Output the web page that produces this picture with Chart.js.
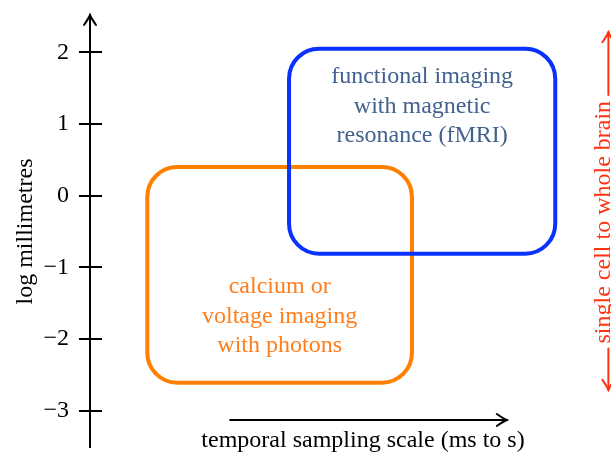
<!DOCTYPE html>
<html><head><meta charset="utf-8">
<script src="https://cdn.jsdelivr.net/npm/chart.js@4/dist/chart.umd.min.js"></script>
<style>html,body{margin:0;padding:0;background:#fff;overflow:hidden}#wrap{width:611px;height:453px;position:relative}</style>
</head><body><div id="wrap"><canvas id="c" width="611" height="453"></canvas></div>
<script>
// ---- data ----
const yTicks = [-3, -2, -1, 0, 1, 2];
const yRange = [-3.5, 2.5];
const xRange = [0, 10];
const yTitle = 'log millimetres';

const boxLabels = [
  ['calcium or', 'voltage imaging', 'with photons'],
  ['functional imaging', 'with magnetic', 'resonance (fMRI)']
];
const boxXStart = [1.10, 3.82];
const boxXEnd   = [6.18, 8.93];
const boxYLow   = [-2.61, -0.81];
const boxYHigh  = [0.40, 2.05];
const boxLabelY = [-1.77, 1.16];   // baseline of the middle text line
const boxStroke = ['#ff8000', '#0a32ff'];
const boxTextColor = ['#ff7d1a', '#41628f'];

const timeArrowX = [2.69, 8.0];
const timeArrowY = -3.13;
const timeLabel = 'temporal sampling scale (ms to s)';
const timeLabelX = 5.24;
const timeLabelY = -3.50;

const scaleArrowX = 9.95;
const scaleArrowY = [-2.71, 2.28];
const scaleLabel = 'single cell to whole brain';
const scaleLabelX = 9.98;
const scaleLabelY = -0.37;
const scaleColor = '#ff3311';

const FONT = '"Liberation Serif", "Times New Roman", serif';
const FS = 24;

function arrowHead(ctx, tx, ty, dx, dy, len, half) {
  const px = -dy, py = dx;
  ctx.beginPath();
  ctx.moveTo(tx - dx * len + px * half, ty - dy * len + py * half);
  ctx.quadraticCurveTo(tx - dx * len * 0.35 + px * half * 0.25, ty - dy * len * 0.35 + py * half * 0.25, tx, ty);
  ctx.quadraticCurveTo(tx - dx * len * 0.35 - px * half * 0.25, ty - dy * len * 0.35 - py * half * 0.25,
                       tx - dx * len - px * half, ty - dy * len - py * half);
  ctx.stroke();
}

function roundRect(ctx, x0, y0, x1, y1, r) {
  ctx.beginPath();
  ctx.moveTo(x0 + r, y0);
  ctx.lineTo(x1 - r, y0);
  ctx.arcTo(x1, y0, x1, y0 + r, r);
  ctx.lineTo(x1, y1 - r);
  ctx.arcTo(x1, y1, x1 - r, y1, r);
  ctx.lineTo(x0 + r, y1);
  ctx.arcTo(x0, y1, x0, y1 - r, r);
  ctx.lineTo(x0, y0 + r);
  ctx.arcTo(x0, y0, x0 + r, y0, r);
  ctx.closePath();
  ctx.stroke();
}

const overlay = {
  id: 'overlay',
  afterDraw(chart) {
    const ctx = chart.ctx, xs = chart.scales.x, ys = chart.scales.y;
    const X = v => xs.getPixelForValue(v), Y = v => ys.getPixelForValue(v);
    const ax = chart.chartArea.left, top = chart.chartArea.top;
    ctx.save();
    ctx.strokeStyle = '#000';
    ctx.lineWidth = 2;
    ctx.lineCap = 'butt';
    yTicks.forEach(t => {
      const py = Math.round(Y(t));
      ctx.beginPath(); ctx.moveTo(ax, py); ctx.lineTo(ax + 12, py); ctx.stroke();
    });
    ctx.lineCap = 'round';
    ctx.beginPath(); ctx.moveTo(ax, top + 2); ctx.lineTo(ax, top - 1.5); ctx.stroke();
    arrowHead(ctx, ax, top - 1.5, 0, -1, 10, 6);

    ctx.lineWidth = 4;
    for (let i = 0; i < boxXStart.length; i++) {
      ctx.strokeStyle = boxStroke[i];
      roundRect(ctx, X(boxXStart[i]), Y(boxYHigh[i]), X(boxXEnd[i]), Y(boxYLow[i]), 30);
    }
    ctx.font = FS + 'px ' + FONT;
    ctx.textAlign = 'center';
    ctx.textBaseline = 'alphabetic';
    for (let i = 0; i < boxLabels.length; i++) {
      ctx.fillStyle = boxTextColor[i];
      const cx = X((boxXStart[i] + boxXEnd[i]) / 2);
      const by = Y(boxLabelY[i]);
      const n = boxLabels[i].length;
      boxLabels[i].forEach((s, k) => ctx.fillText(s, cx, by + (k - (n - 1) / 2) * 29.3));
    }

    ctx.strokeStyle = '#000'; ctx.lineWidth = 2;
    const tx0 = X(timeArrowX[0]), tx1 = X(timeArrowX[1]), ty = Y(timeArrowY);
    ctx.beginPath(); ctx.moveTo(tx0, ty); ctx.lineTo(tx1, ty); ctx.stroke();
    arrowHead(ctx, tx1, ty, 1, 0, 10, 6);
    ctx.fillStyle = '#000';
    ctx.fillText(timeLabel, X(timeLabelX), Y(timeLabelY));

    ctx.strokeStyle = scaleColor; ctx.fillStyle = scaleColor;
    const sx = X(scaleArrowX), sy0 = Y(scaleArrowY[0]), sy1 = Y(scaleArrowY[1]);
    const lw = ctx.measureText(scaleLabel).width;
    const ly = Y(scaleLabelY);
    ctx.beginPath(); ctx.moveTo(sx, sy1); ctx.lineTo(sx, ly - lw / 2 - 6); ctx.stroke();
    ctx.beginPath(); ctx.moveTo(sx, ly + lw / 2 + 5); ctx.lineTo(sx, sy0); ctx.stroke();
    arrowHead(ctx, sx, sy1, 0, -1, 10, 6);
    arrowHead(ctx, sx, sy0, 0, 1, 10, 6);
    ctx.save();
    ctx.translate(X(scaleLabelX), ly);
    ctx.rotate(-Math.PI / 2);
    ctx.fillText(scaleLabel, 0, 0);
    ctx.restore();
    ctx.restore();
  }
};

function build() {
  new Chart(document.getElementById('c'), {
    type: 'scatter',
    data: { datasets: [{ data: [] }] },
    options: {
      responsive: false, animation: false, devicePixelRatio: 1,
      layout: { padding: { top: 16.5, bottom: 6.5, left: 0, right: 0 } },
      plugins: { legend: { display: false }, tooltip: { enabled: false } },
      scales: {
        x: { type: 'linear', display: false, min: xRange[0], max: xRange[1] },
        y: {
          type: 'linear', min: yRange[0], max: yRange[1],
          afterFit(s) { s.width = 90; s.paddingTop = 0; s.paddingBottom = 0; },
          afterBuildTicks(s) { s.ticks = yTicks.map(v => ({ value: v })); },
          ticks: {
            callback: v => String(v).replace('-', '\u2212'),
            font: { family: FONT, size: FS }, color: '#000', padding: 10
          },
          grid: { drawOnChartArea: false, color: '#000', lineWidth: 2, tickLength: 11 },
          border: { display: true, color: '#000', width: 2 },
          title: { display: true, text: yTitle, font: { family: FONT, size: FS }, color: '#000', padding: { top: 11, bottom: 0 } }
        }
      }
    },
    plugins: [overlay]
  });
}
document.fonts.load(FS + 'px "Liberation Serif"').then(build, build);
</script>
</body></html>
